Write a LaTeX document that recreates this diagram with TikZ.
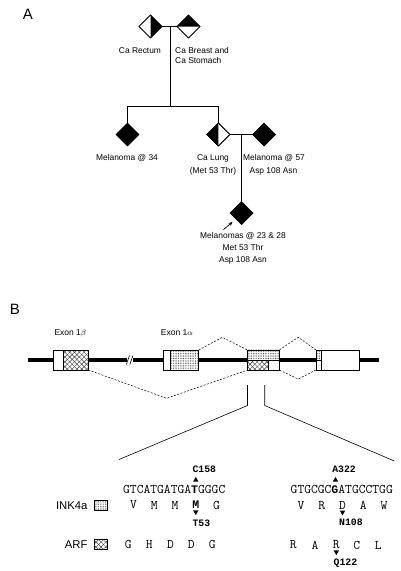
\documentclass[tikz,border=0pt]{standalone}
\usepackage{fontspec}
\setmainfont{Liberation Sans}
\newfontfamily\monof{Liberation Mono}
\usetikzlibrary{shapes.geometric,patterns.meta,arrows.meta}
\newcommand\bnuc[1]{{\monof\bfseries\fontsize{11.55}{13}\selectfont #1}}
\begin{document}
\begin{tikzpicture}[x=1pt,y=-1pt,
  ped/.style={diamond,draw,line width=0.7pt,minimum width=23pt,minimum height=23pt,inner sep=0pt,outer sep=0pt},
  pedfull/.style={ped,fill=black},
  pline/.style={line width=0.6pt},
  lab/.style={font=\fontsize{8.4}{10}\selectfont,inner sep=0pt,anchor=base},
  biglab/.style={font=\fontsize{15}{17}\selectfont,inner sep=0pt},
  exlab/.style={font=\fontsize{8.5}{10}\selectfont,inner sep=0pt,anchor=base west},
  leglab/.style={font=\fontsize{11.3}{13}\selectfont,inner sep=0pt,anchor=base east},
  exon/.style={draw,line width=0.5pt,inner sep=0pt,outer sep=0pt,fill=white},
  stip/.style={pattern={Dots[radius=0.42pt,distance=1.7pt]},pattern color=black!85},
  xhatch/.style={pattern={Lines[angle=45,distance=3.4pt,line width=0.45pt]},pattern color=black!75,
    postaction={pattern={Lines[angle=-45,distance=3.4pt,line width=0.45pt]},pattern color=black!75}},
  splice/.style={dash pattern=on 2pt off 1.5pt,line width=0.5pt},
  seq/.style={font=\ttfamily\fontsize{13.2}{15}\selectfont,inner sep=0pt},
  mut/.style={font=\monof\bfseries\fontsize{9.8}{11}\selectfont,inner sep=0pt,anchor=west},
  uptri/.pic={\fill (-2.7,2.4) -- (2.7,2.4) -- (0,-2.4) -- cycle;},
  downtri/.pic={\fill (-2.7,-2.4) -- (2.7,-2.4) -- (0,2.4) -- cycle;}
]
\useasboundingbox (0,0) rectangle (401,571);

% ---------------- Panel A ----------------
\node[biglab] (A) at (28,14) {A};

\node[ped] (tl) at (150.5,26.5) {};
\fill (tl.north) -- (tl.east) -- (tl.south) -- cycle;
\node[ped] (tl2) at (150.5,26.5) {};
\node[ped] (tr) at (188.5,26.5) {};
\fill (tr.west) -- (tr.north) -- (tr.east) -- cycle;
\node[ped] (tr2) at (188.5,26.5) {};

\coordinate (m1) at (170,26.5);
\coordinate (s1) at (170,106);
\coordinate (sL) at (127.5,106);
\coordinate (sR) at (218.3,106);
\draw[pline] (tl.east) -- (tr.west);
\draw[pline] (m1) -- (s1);
\draw[pline] (sL) -- (sR);

\node[lab] (l1) at (140,53) {Ca Rectum};
\node[lab,anchor=base west] (l2) at (175,53) {Ca Breast and};
\node[lab,anchor=base west] (l3) at (175,63.5) {Ca Stomach};

\node[pedfull] (c1) at (127.5,134.5) {};
\node[ped] (c2) at (218.3,134.5) {};
\fill (c2.north) -- (c2.west) -- (c2.south) -- cycle;
\node[ped] (c2b) at (218.3,134.5) {};
\node[pedfull] (sp) at (264,134.5) {};
\draw[pline] (sL) -- (c1.north);
\draw[pline] (sR) -- (c2.north);
\draw[pline] (c2.east) -- (sp.west);
\coordinate (m2) at (241.5,134.5);

\node[pedfull] (pr) at (241.5,213) {};
\draw[pline] (m2) -- (pr.north);
\coordinate (arT) at (223.5,229.5);
\coordinate (arH) at (232.5,222);
\draw[line width=0.7pt,-{Stealth[length=4pt,width=3.5pt]}] (arT) -- (arH);

\node[lab] (l4) at (127,160.3) {Melanoma @ 34};
\node[lab] (l5) at (213,160.3) {Ca Lung};
\node[lab] (l6) at (213,173) {(Met 53 Thr)};
\node[lab] (l7) at (274,160.3) {Melanoma @ 57};
\node[lab] (l8) at (273.5,173) {Asp 108 Asn};
\node[lab] (l9) at (243,238) {Melanomas @ 23 \& 28};
\node[lab] (l10) at (243,250.7) {Met 53 Thr};
\node[lab] (l11) at (243,262.3) {Asp 108 Asn};

% ---------------- Panel B ----------------
\node[biglab] (B) at (15,309) {B};

\coordinate (g0) at (28,360);
\coordinate (g1) at (127.3,360);
\coordinate (g2) at (132.5,360);
\coordinate (g3) at (379,360);
\draw[line width=3.6pt] (g0) -- (g1);
\draw[line width=3.6pt] (g2) -- (g3);
\draw[line width=0.6pt] (126.3,364.5) -- (129.5,355.5);
\draw[line width=0.6pt] (129.8,364.5) -- (133,355.5);

\node[exlab] (x1) at (54.3,335.6) {Exon 1$\beta$};
\node[exlab] (x2) at (160.7,335.6) {Exon 1$\alpha$};

% exon 1 beta
\node[exon,minimum width=35pt,minimum height=20pt] (e1b) at (70.8,360) {};
\path[xhatch] (63.3,350) rectangle (e1b.south east);
\node[exon,fill=none,minimum width=35pt,minimum height=20pt] (e1bo) at (70.8,360) {};
\draw[line width=0.5pt] (63.3,350) -- (63.3,370);

% exon 1 alpha
\node[exon,minimum width=35.4pt,minimum height=20pt] (e1a) at (181,360) {};
\path[stip] (170,350) rectangle (e1a.south east);
\node[exon,fill=none,minimum width=35.4pt,minimum height=20pt] (e1ao) at (181,360) {};
\draw[line width=0.5pt] (170,350) -- (170,370);

% exon 2
\node[exon,minimum width=32.7pt,minimum height=20.5pt] (e2) at (263.3,360) {};
\path[stip] (e2.north west) rectangle (279.65,360);
\path[xhatch] (246.95,360) rectangle (268.7,370.25);
\node[exon,fill=none,minimum width=32.7pt,minimum height=20.5pt] (e2o) at (263.3,360) {};
\draw[line width=0.5pt] (246.95,360) -- (279.65,360);
\draw[line width=0.5pt] (268.7,360) -- (268.7,370.25);

% exon 3
\node[exon,minimum width=43.3pt,minimum height=20pt] (e3) at (337.65,360) {};
\path[stip] (e3.north west) rectangle (321.7,360.7);
\node[exon,fill=none,minimum width=43.3pt,minimum height=20pt] (e3o) at (337.65,360) {};
\draw[line width=0.5pt] (321.7,350) -- (321.7,370);
\draw[line width=0.5pt] (316,360.7) -- (321.7,360.7);

% splicing
\coordinate (pk1) at (222.3,337.3);
\coordinate (pk2) at (298.3,337.3);
\coordinate (vl1) at (166.7,398.3);
\coordinate (vl2) at (298.3,379);
\draw[splice] (e1a.north east) -- (pk1) -- (e2.north west);
\draw[splice] (e2.north east) -- (pk2) -- (e3.north west);
\draw[splice] (e1b.south east) -- (vl1) -- (e2.south west);
\draw[splice] (e2.south east) -- (vl2) -- (e3.south west);

% zoom lines
\coordinate (za1) at (247.5,385);
\coordinate (za2) at (247.5,405.5);
\coordinate (za3) at (119,459.5);
\coordinate (zb1) at (264.7,385);
\coordinate (zb2) at (264.7,405.5);
\coordinate (zb3) at (394.3,461);
\draw[line width=0.6pt] (za1) -- (za2) -- (za3);
\draw[line width=0.6pt] (zb1) -- (zb2) -- (zb3);

% legend
\node[leglab] (ink) at (87.7,509.3) {INK4a};
\node[draw,line width=0.5pt,minimum width=13pt,minimum height=10pt,inner sep=0pt,stip] (lg1) at (100.8,505.3) {};
\node[leglab] (arf) at (87.7,548.4) {ARF};
\node[draw,line width=0.5pt,minimum width=13pt,minimum height=10.3pt,inner sep=0pt,xhatch] (lg2) at (100.8,544.2) {};

% left sequence
\node[mut] (c158) at (192.3,469.3) {C158};
\pic at (195.8,479.3) {uptri};
\node[seq,anchor=west] (sq1) at (123,489.3) {GTCATGATGA\bnuc{T}GGGC};
\node[seq] (a1) at (133.4,505) {V};
\node[seq] (a2) at (154.2,505) {M};
\node[seq] (a3) at (175,505) {M};
\node[seq] (a4) at (195.8,505) {\bnuc{M}};
\node[seq] (a5) at (216.6,505) {G};
\pic at (195.8,512.7) {downtri};
\node[mut] (t53) at (192.3,523.3) {T53};
\node[seq] (f1) at (128.3,544.3) {G};
\node[seq] (f2) at (149.3,544.3) {H};
\node[seq] (f3) at (170.5,544.3) {D};
\node[seq] (f4) at (191.3,544.3) {D};
\node[seq] (f5) at (212.3,544.3) {G};

% right sequence
\node[mut] (a322) at (332.1,469.3) {A322};
\pic at (335.5,479.3) {uptri};
\node[seq,anchor=west] (sq2) at (290.5,489.3) {GTGCGC\bnuc{G}ATGCCTGG};
\node[seq] (b1) at (300.9,505.5) {V};
\node[seq] (b2) at (321.7,505.5) {R};
\node[seq] (b3) at (342.5,505.5) {D};
\node[seq] (b4) at (363.3,505.5) {A};
\node[seq] (b5) at (384.1,505.5) {W};
\pic at (342.5,513) {downtri};
\node[mut] (n108) at (339,522.7) {N108};
\node[seq] (h1) at (293.3,545) {R};
\node[seq] (h2) at (315,545) {A};
\node[seq] (h3) at (336.3,545) {R};
\node[seq] (h4) at (356.7,545) {C};
\node[seq] (h5) at (378.3,545) {L};
\pic at (336.3,552.7) {downtri};
\node[mut] (q122) at (333.5,563.3) {Q122};
\end{tikzpicture}
\end{document}
